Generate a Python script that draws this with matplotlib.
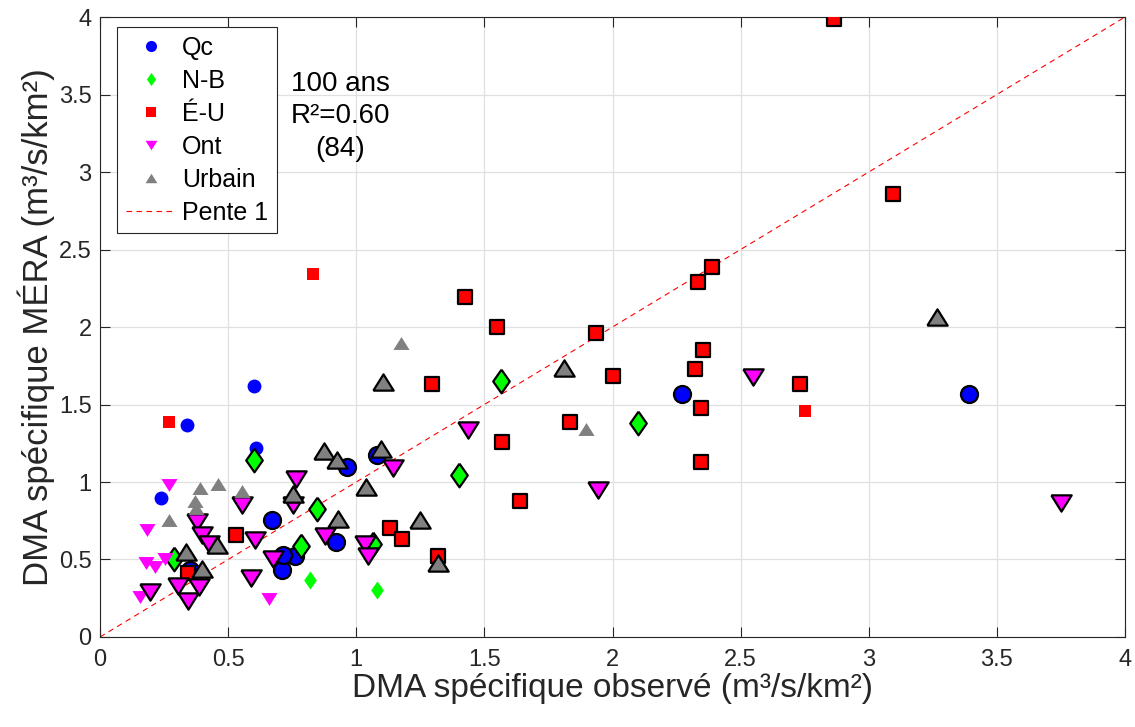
import matplotlib
matplotlib.use('Agg')
import matplotlib.pyplot as plt
from matplotlib.lines import Line2D
from matplotlib.path import Path
import numpy as np

# Québec
qc_small_x = [0.60, 0.34, 0.24, 0.61]
qc_small_y = [1.62, 1.37, 0.90, 1.22]
qc_x = [3.39, 2.27, 0.67, 0.965, 1.08, 0.92, 0.71, 0.76, 0.715, 0.35]
qc_y = [1.57, 1.57, 0.755, 1.10, 1.175, 0.615, 0.43, 0.52, 0.53, 0.43]

# Nouveau-Brunswick
nb_small_x = [0.82, 1.08]
nb_small_y = [0.37, 0.30]
nb_x = [0.29, 0.60, 0.845, 0.785, 1.065, 1.40, 1.565, 2.10]
nb_y = [0.50, 1.14, 0.825, 0.585, 0.60, 1.045, 1.65, 1.38]

# États-Unis
eu_small_x = [0.27, 0.83, 2.75]
eu_small_y = [1.39, 2.34, 1.46]
eu_x = [2.865, 3.095, 2.39, 2.335, 2.355, 2.32, 2.00, 2.73, 2.345, 2.345, 1.425,
        1.55, 1.935, 1.295, 1.835, 1.57, 1.64, 1.13, 1.18, 1.32, 0.53, 0.345]
eu_y = [3.99, 2.86, 2.39, 2.29, 1.85, 1.73, 1.685, 1.635, 1.475, 1.13, 2.195,
        2.00, 1.96, 1.63, 1.39, 1.26, 0.875, 0.70, 0.63, 0.52, 0.66, 0.41]

# Ontario
ont_small_x = [0.27, 0.185, 0.18, 0.215, 0.255, 0.155, 0.66]
ont_small_y = [0.98, 0.69, 0.48, 0.45, 0.50, 0.26, 0.245]
ont_x = [3.75, 2.55, 1.945, 1.435, 1.145, 1.035, 1.045, 0.88, 0.765, 0.755, 0.555,
         0.605, 0.675, 0.59, 0.38, 0.40, 0.425, 0.195, 0.305, 0.345, 0.385]
ont_y = [0.865, 1.68, 0.95, 1.335, 1.09, 0.60, 0.52, 0.65, 1.02, 0.85, 0.85,
         0.625, 0.50, 0.38, 0.745, 0.66, 0.60, 0.29, 0.33, 0.235, 0.325]

# Urbain
urb_small_x = [1.175, 1.895, 0.39, 0.46, 0.555, 0.27, 0.37, 0.375]
urb_small_y = [1.895, 1.345, 0.96, 0.99, 0.945, 0.755, 0.875, 0.83]
urb_x = [3.265, 1.81, 1.105, 0.875, 0.925, 1.095, 1.04, 0.755, 0.93, 1.25, 1.32,
         0.335, 0.455, 0.40]
urb_y = [2.065, 1.735, 1.645, 1.20, 1.145, 1.215, 0.97, 0.925, 0.76, 0.755, 0.475,
         0.55, 0.595, 0.44]

ticks = [0, 0.5, 1, 1.5, 2, 2.5, 3, 3.5, 4]
tick_labels = ['0', '0.5', '1', '1.5', '2', '2.5', '3', '3.5', '4']

plt.rcParams['font.family'] = ['Liberation Sans', 'DejaVu Sans']

# wide triangles and narrow diamonds
tri_down = Path([(-1, 0.8), (1, 0.8), (0, -0.8), (-1, 0.8)])
tri_up = Path([(-1, -0.8), (1, -0.8), (0, 0.8), (-1, -0.8)])
diamond = Path([(0, 1), (0.7, 0), (0, -1), (-0.7, 0), (0, 1)])

groups = [
    ('Qc', 'o', (0, 0, 1), qc_small_x, qc_small_y, qc_x, qc_y, 100, 150, 8),
    ('N-B', diamond, (0, 1, 0), nb_small_x, nb_small_y, nb_x, nb_y, 170, 290, 9.5),
    ('É-U', 's', (1, 0, 0), eu_small_x, eu_small_y, eu_x, eu_y, 63, 90, 7),
    ('Ont', tri_down, (1, 0, 1), ont_small_x, ont_small_y, ont_x, ont_y, 135, 215, 8.5),
    ('Urbain', tri_up, (0.5, 0.5, 0.5), urb_small_x, urb_small_y, urb_x, urb_y, 135, 215, 8.5),
]

fig = plt.figure(figsize=(11.35, 7.27), dpi=100)
ax = fig.add_axes([0.0881, 0.1238, 0.9031, 0.8528])

for name, mk, col, sx, sy, bx, by, s_small, s_big, _ in groups:
    ax.scatter(sx, sy, s=s_small, marker=mk, color=col, linewidths=0, zorder=3)
    ax.scatter(bx, by, s=s_big, marker=mk, facecolor=col, edgecolor='black',
               linewidths=1.6, zorder=3)

ax.plot([0, 4], [0, 4], color='red', linestyle=(0, (5, 4)), linewidth=0.8, zorder=2)

ax.set_xlim(0, 4)
ax.set_ylim(0, 4)
ax.set_xticks(ticks)
ax.set_xticklabels(tick_labels)
ax.set_yticks(ticks)
ax.set_yticklabels(tick_labels)
ax.grid(True, color='#e0e0e0', linewidth=0.9)
ax.set_axisbelow(True)
ax.tick_params(direction='in', length=7, width=0.8, top=True, right=True,
               labelsize=17, colors='#262626')
ax.tick_params(axis='x', pad=9)
ax.tick_params(axis='y', pad=6)
for sp in ax.spines.values():
    sp.set_color('#262626')
    sp.set_linewidth(0.8)

ax.set_xlabel('DMA spécifique observé (m³/s/km²)', fontsize=24, color='#262626',
              labelpad=1)
ax.set_ylabel('DMA spécifique MÉRA (m³/s/km²)', fontsize=25, color='#262626',
              labelpad=3)

ax.text(0.937, 3.36, '100 ans\nR²=0.60\n(84)', fontsize=20, ha='center', va='center',
        linespacing=1.32, color='black')

handles = [Line2D([], [], marker=g[1], color=g[2], linestyle='none', markersize=g[9],
                  markeredgewidth=0)
           for g in groups]
handles.append(Line2D([], [], color='red', linestyle=(0, (5, 4)), linewidth=0.8))
labels = [g[0] for g in groups] + ['Pente 1']
leg = ax.legend(handles, labels, loc='upper left', bbox_to_anchor=(0.0166, 0.9839),
                borderaxespad=0, fontsize=18, frameon=True, fancybox=False,
                handlelength=2.0, labelspacing=0.36, borderpad=0.35,
                handletextpad=0.25)
leg.get_frame().set_edgecolor('#262626')
leg.get_frame().set_linewidth(0.8)
leg.get_frame().set_alpha(1)

fig.savefig('out.png', dpi=100)
